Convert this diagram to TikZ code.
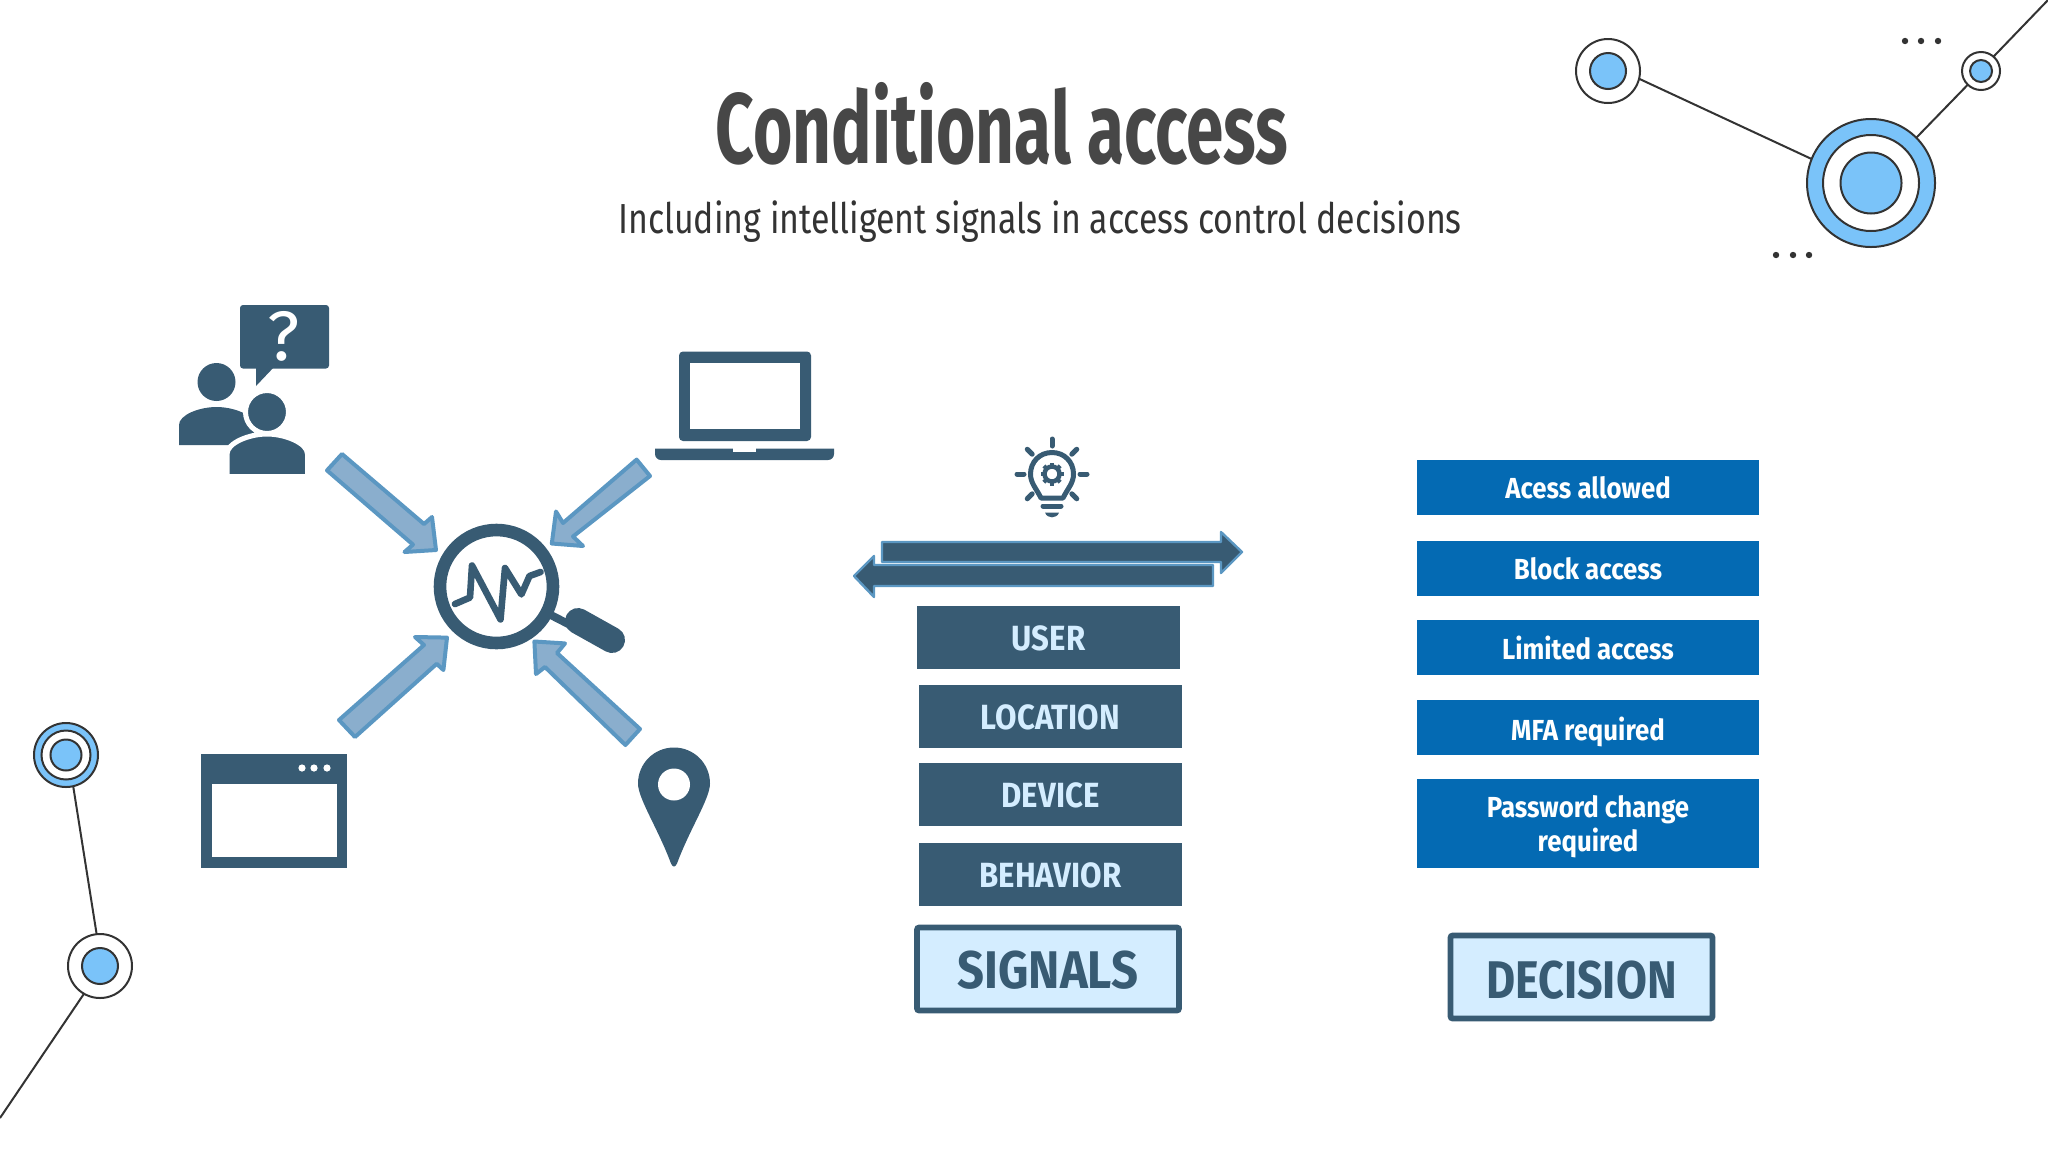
\documentclass[tikz,border=0pt]{standalone}
\usepackage{fontspec}
\usepackage{xcolor}
\usetikzlibrary{arrows.meta, positioning, calc}
\setmainfont{Fira Sans}
\newfontfamily\titlefont[FakeStretch=0.675]{Fira Sans}
\newfontfamily\subfont[FakeStretch=0.807]{Fira Sans}
\newfontfamily\labelfont[FakeStretch=0.89]{Fira Sans}
\newfontfamily\narrowfont[FakeStretch=0.845]{Fira Sans}
\definecolor{myslate}{RGB}{56, 91, 115}
\definecolor{mypale}{RGB}{212, 237, 255}
\definecolor{myblue}{RGB}{4, 106, 179}
\definecolor{mysky}{RGB}{122, 195, 249}
\definecolor{myink}{RGB}{51, 51, 51}
\definecolor{myarrow}{RGB}{138, 174, 205}
\definecolor{myedge}{RGB}{91, 151, 194}
\tikzset{
    signalbox/.style={rectangle, fill=myslate, text=mypale, minimum width=131.5pt, minimum height=31.5pt, text height=13.3pt, text depth=0pt, font=\labelfont\bfseries\fontsize{17.5}{20}\selectfont},
    decisionbox/.style={rectangle, fill=myblue, text=white, minimum width=171pt, minimum height=27.5pt, align=center, font=\labelfont\bfseries\fontsize{14.5}{17}\selectfont},
    headbox/.style={rectangle, rounded corners=1pt, draw=myslate, line width=2.8pt, fill=mypale, text=myslate, inner sep=0pt, minimum width=131pt, minimum height=41.5pt, text depth=0pt, font=\labelfont\bfseries\fontsize{26.5}{30}\selectfont},
    ringnode/.style={circle, draw=myink, line width=1pt, inner sep=0pt, outer sep=0pt, fill=#1},
    link/.style={draw=myink, line width=1pt},
    dotnode/.style={circle, fill=myink, inner sep=0pt, minimum size=3.2pt},
    blockarrow/.style={fill=myarrow, draw=myedge, line width=2pt, line join=round},
    twoarrow/.style={fill=myslate, draw=myedge, line width=1.2pt, line join=round},
    icon/.style={fill=myslate, draw=none},
    lensline/.style={draw=myslate, line width=3.3pt, line join=round, line cap=round},
    bulbline/.style={draw=myslate, line width=2.5pt, line cap=round, line join=round}
}

\begin{document}
\begin{tikzpicture}[x=0.5pt, y=-0.5pt]
    \useasboundingbox (0, 0) rectangle (2048, 1152);
    % titles
    \node[text=myink!90, font=\titlefont\bfseries\fontsize{50}{56}\selectfont] (title) at (1002, 124) {Conditional access};
    \node[text=myink, font=\subfont\fontsize{21}{25}\selectfont] (subtitle) at (1040, 222) {Including intelligent signals in access control decisions};

    % corner decoration, top right
    \node[ringnode=mysky, minimum size=64pt] (bigouter) at (1871, 183) {};
    \node[ringnode=white, minimum size=48pt] (bigmiddle) at (1871, 183) {};
    \node[ringnode=mysky, minimum size=30.5pt] (biginner) at (1871, 183) {};
    \node[ringnode=white, minimum size=32pt] (leftouter) at (1608, 71) {};
    \node[ringnode=mysky, minimum size=18pt] (leftinner) at (1608, 71) {};
    \node[ringnode=white, minimum size=19pt] (rightouter) at (1981, 71) {};
    \node[ringnode=mysky, minimum size=11pt] (rightinner) at (1981, 71) {};
    \coordinate (topcorner) at (2048, 0);
    \draw[link] (leftouter.-14) -- (bigouter.158);
    \draw[link] (bigouter.45) -- (rightouter.-134);
    \draw[link] (rightouter.49) -- (topcorner);
    \foreach \i/\x in {1/1905, 2/1921, 3/1938} \node[dotnode] (dota\i) at (\x, 41) {};
    \foreach \i/\x in {1/1776, 2/1793, 3/1809} \node[dotnode] (dotb\i) at (\x, 255) {};

    % corner decoration, bottom left
    \node[ringnode=mysky, minimum size=32pt] (lowouter) at (66, 755) {};
    \node[ringnode=white, minimum size=24.5pt] (lowmiddle) at (66, 755) {};
    \node[ringnode=mysky, minimum size=15.5pt] (lowinner) at (66, 755) {};
    \node[ringnode=white, minimum size=32pt] (footouter) at (100, 966) {};
    \node[ringnode=mysky, minimum size=18pt] (footinner) at (100, 966) {};
    \coordinate (footend) at (0, 1118);
    \draw[link] (lowouter.-77) -- (footouter.96);
    \draw[link] (footouter.-120) -- (footend);

    % people with question
    \fill[icon, rounded corners=1.5pt] (240, 305) rectangle (329, 368.5);
    \fill[icon] (256, 366) -- (256, 386) -- (275, 366) -- cycle;
    \node[text=white, inner sep=0pt, font=\fontsize{35}{38}\selectfont] (question) at (284, 336) {?};
    \fill[icon] (216.5, 382) ellipse (19 and 19);
    \fill[icon] (179, 445) -- (179, 425) .. controls (179, 415) and (199, 407) .. (216.5, 407) .. controls (234, 407) and (254, 415) .. (254, 425) -- (254, 445) -- cycle;
    \filldraw[icon, draw=white, line width=2.5pt] (267, 412) ellipse (21.5 and 21.5);
    \filldraw[icon, draw=white, line width=2.5pt] (227, 476.5) -- (227, 454) .. controls (227, 443) and (249, 434) .. (267, 434) .. controls (285, 434) and (307.5, 443) .. (307.5, 454) -- (307.5, 476.5) -- cycle;

    % laptop
    \fill[icon, rounded corners=2pt] (679, 441) -- (679, 351.5) -- (811, 351.5) -- (811, 441) -- cycle;
    \fill[white] (690, 363) rectangle (799.5, 429);
    \fill[icon] (655, 448.5) -- (834, 448.5) [rounded corners=3pt] -- (834, 460) -- (655, 460) [sharp corners] -- cycle;
    \fill[white] (732.5, 448) rectangle (756, 451.5);

    % browser window
    \fill[icon] (201, 753.5) rectangle (347, 867.5);
    \fill[white] (211.5, 783.5) rectangle (336.5, 857);
    \foreach \x in {302, 314, 327} \fill[white] (\x, 768) circle (3.6);

    % pin
    \fill[icon] (674, 747.5) .. controls (694, 747.5) and (710, 763.5) .. (710, 783.5) .. controls (710, 798.5) and (690, 828.5) .. (677, 863.5) .. controls (675, 867.5) and (673, 867.5) .. (671, 863.5) .. controls (658, 828.5) and (638, 798.5) .. (638, 783.5) .. controls (638, 763.5) and (654, 747.5) .. (674, 747.5) -- cycle;
    \fill[white] (674, 784.5) circle (16);

    % magnifier
    \draw[draw=myslate, line width=4pt] (545, 612) -- (580, 630);
    \draw[draw=myslate, line width=13pt, line cap=round] (578, 621) -- (612, 640);
    \node[circle, draw=myslate, line width=6.3pt, fill=white, minimum size=56.5pt, inner sep=0pt] (lens) at (496.5, 586.5) {};
    \draw[lensline] (455, 604) -- (470, 597.5) -- (472, 565.5) -- (500.5, 619.4) -- (505, 568) -- (521.4, 594.4) -- (529.5, 576) -- (540.6, 572);

    % arrows into the magnifier
    \draw[blockarrow] (342, 454) -- (424, 524) -- (432, 517) -- (436, 550) -- (404.5, 552) -- (413, 544.6) -- (327, 470.4) -- cycle;
    \draw[blockarrow] (636.6, 459.6) -- (563, 523) -- (556, 511.5) -- (551.8, 543.5) -- (583, 546) -- (573, 536.5) -- (650, 476) -- cycle;
    \draw[blockarrow] (339, 720) -- (424, 645) -- (415, 637) -- (447, 637.6) -- (443.4, 670) -- (436.7, 663.8) -- (355, 737) -- cycle;
    \draw[blockarrow] (640, 729) -- (557, 653) -- (565, 643.4) -- (534.4, 641.5) -- (536, 674) -- (545, 667) -- (625.4, 745) -- cycle;

    % bulb
    \coordinate (bulbc) at (1052, 474);
    \draw[bulbline] (1052, 452.5) .. controls (1064.5, 452.5) and (1073.5, 462) .. (1073.5, 474) .. controls (1073.5, 483) and (1068, 488) .. (1063, 498) -- (1041, 498) .. controls (1036, 488) and (1030.5, 483) .. (1030.5, 474) .. controls (1030.5, 462) and (1039.5, 452.5) .. (1052, 452.5) -- cycle;
    \foreach \a in {0, 45, 135, 180, 225, 270, 315} \draw[bulbline] ($(bulbc)+(\a:28)$) -- ($(bulbc)+(\a:35)$);
    \foreach \a in {0, 45, ..., 315} \draw[draw=myslate, line width=2pt] ($(bulbc)+(\a:7)$) -- ($(bulbc)+(\a:11.5)$);
    \node[circle, draw=myslate, line width=2.2pt, inner sep=0pt, minimum size=7.5pt] (gear) at (bulbc) {};
    \draw[bulbline] (1043, 506) -- (1061, 506);
    \fill[icon] (1045, 512.5) -- (1059, 512.5) .. controls (1057, 519) and (1047, 519) .. (1045, 512.5) -- cycle;

    % double arrows
    \draw[twoarrow] (882, 542) -- (1221, 542) -- (1221, 532) -- (1242, 552) -- (1221, 573) -- (1221, 562) -- (882, 562) -- cycle;
    \draw[twoarrow] (1213, 565) -- (874, 565) -- (874, 556) -- (854, 576) -- (874, 597) -- (874, 586) -- (1213, 586) -- cycle;

    % signals
    \node[signalbox] (user) at (1048.5, 637) {USER};
    \node[signalbox] (location) at (1050.5, 716) {LOCATION};
    \node[signalbox] (device) at (1050.5, 794) {DEVICE};
    \node[signalbox] (behavior) at (1050.5, 874) {BEHAVIOR};
    \node[headbox, text height=19.5pt] (signals) at (1048, 969) {SIGNALS};

    % decisions
    \node[decisionbox, text height=11.5pt, text depth=0pt] (allowed) at (1588, 487) {Acess allowed};
    \node[decisionbox, text height=11.5pt, text depth=0pt] (block) at (1588, 568) {Block access};
    \node[decisionbox, text height=11.5pt, text depth=0pt] (limited) at (1588, 647.5) {Limited access};
    \node[decisionbox, text height=12.5pt, text depth=0pt] (mfa) at (1588, 727.5) {MFA required};
    \node[decisionbox, minimum height=44.5pt] (password) at (1588, 823) {\rule{0pt}{15pt}Password change\\required};
    \node[headbox, text height=21pt, font=\narrowfont\bfseries\fontsize{26.5}{30}\selectfont] (decision) at (1581.5, 977) {DECISION};
\end{tikzpicture}
\end{document}
